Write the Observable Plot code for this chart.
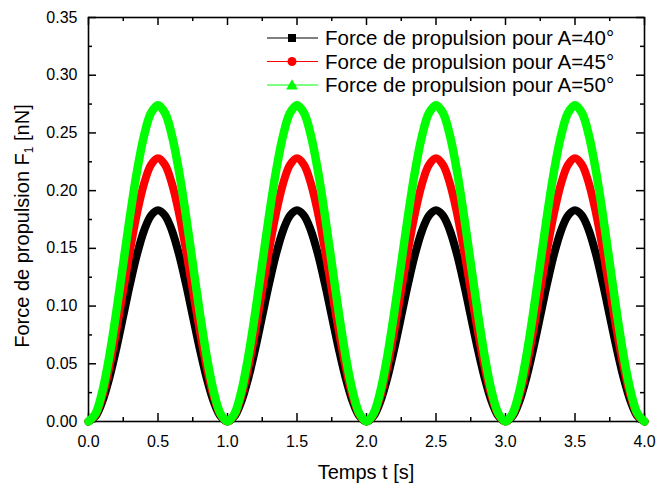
<!DOCTYPE html>
<html><head><meta charset="utf-8">
<script src="https://cdn.jsdelivr.net/npm/d3@7"></script>
<script src="https://cdn.jsdelivr.net/npm/@observablehq/plot@0.6"></script>
<style>
body{margin:0;background:#fff;}
#chart svg{font-family:"Liberation Sans",Arial,sans-serif;}
</style>
</head><body><div id="chart"></div>
<script>
// Sampling times (s)
const time = [0,0.05,0.1,0.15,0.2,0.25,0.3,0.35,0.4,0.45,0.5,0.55,0.6,0.65,0.7,0.75,0.8,0.85,0.9,0.95,
1,1.05,1.1,1.15,1.2,1.25,1.3,1.35,1.4,1.45,1.5,1.55,1.6,1.65,1.7,1.75,1.8,1.85,1.9,1.95,
2,2.05,2.1,2.15,2.2,2.25,2.3,2.35,2.4,2.45,2.5,2.55,2.6,2.65,2.7,2.75,2.8,2.85,2.9,2.95,
3,3.05,3.1,3.15,3.2,3.25,3.3,3.35,3.4,3.45,3.5,3.55,3.6,3.65,3.7,3.75,3.8,3.85,3.9,3.95,4];

// Force de propulsion (nN), A = 40°
const f40 = [0,0.0045,0.0175,0.0377,0.0632,0.0915,0.1198,0.1453,0.1655,0.1785,0.183,0.1785,0.1655,0.1453,0.1198,0.0915,0.0632,0.0377,0.0175,0.0045,
0,0.0045,0.0175,0.0377,0.0632,0.0915,0.1198,0.1453,0.1655,0.1785,0.183,0.1785,0.1655,0.1453,0.1198,0.0915,0.0632,0.0377,0.0175,0.0045,
0,0.0045,0.0175,0.0377,0.0632,0.0915,0.1198,0.1453,0.1655,0.1785,0.183,0.1785,0.1655,0.1453,0.1198,0.0915,0.0632,0.0377,0.0175,0.0045,
0,0.0045,0.0175,0.0377,0.0632,0.0915,0.1198,0.1453,0.1655,0.1785,0.183,0.1785,0.1655,0.1453,0.1198,0.0915,0.0632,0.0377,0.0175,0.0045,0];

// A = 45°
const f45 = [0,0.0056,0.0218,0.047,0.0788,0.114,0.1492,0.181,0.2062,0.2224,0.228,0.2224,0.2062,0.181,0.1492,0.114,0.0788,0.047,0.0218,0.0056,
0,0.0056,0.0218,0.047,0.0788,0.114,0.1492,0.181,0.2062,0.2224,0.228,0.2224,0.2062,0.181,0.1492,0.114,0.0788,0.047,0.0218,0.0056,
0,0.0056,0.0218,0.047,0.0788,0.114,0.1492,0.181,0.2062,0.2224,0.228,0.2224,0.2062,0.181,0.1492,0.114,0.0788,0.047,0.0218,0.0056,
0,0.0056,0.0218,0.047,0.0788,0.114,0.1492,0.181,0.2062,0.2224,0.228,0.2224,0.2062,0.181,0.1492,0.114,0.0788,0.047,0.0218,0.0056,0];

// A = 50°
const f50 = [0,0.0067,0.0262,0.0565,0.0947,0.137,0.1793,0.2175,0.2478,0.2673,0.274,0.2673,0.2478,0.2175,0.1793,0.137,0.0947,0.0565,0.0262,0.0067,
0,0.0067,0.0262,0.0565,0.0947,0.137,0.1793,0.2175,0.2478,0.2673,0.274,0.2673,0.2478,0.2175,0.1793,0.137,0.0947,0.0565,0.0262,0.0067,
0,0.0067,0.0262,0.0565,0.0947,0.137,0.1793,0.2175,0.2478,0.2673,0.274,0.2673,0.2478,0.2175,0.1793,0.137,0.0947,0.0565,0.0262,0.0067,
0,0.0067,0.0262,0.0565,0.0947,0.137,0.1793,0.2175,0.2478,0.2673,0.274,0.2673,0.2478,0.2175,0.1793,0.137,0.0947,0.0565,0.0262,0.0067,0];

const seriesNames = ["Force de propulsion pour A=40°","Force de propulsion pour A=45°","Force de propulsion pour A=50°"];
const seriesColors = ["#000000","#ff0000","#00ff00"];

const xMajor = [0,0.5,1,1.5,2,2.5,3,3.5,4];
const xMinor = [0.25,0.75,1.25,1.75,2.25,2.75,3.25,3.75];
const yMajor = [0,0.05,0.1,0.15,0.2,0.25,0.3,0.35];
const yMinor = [0.025,0.075,0.125,0.175,0.225,0.275,0.325];

const xTitle = "Temps t [s]";
const yTitleA = "Force de propulsion F";
const yTitleSub = "1";
const yTitleB = " [nN]";

const seriesValues = [f40, f45, f50];
const rows = [];
seriesValues.forEach((vals, k) => vals.forEach((v, i) => rows.push({t: time[i], f: v, s: k})));

const W = 659, H = 489, mL = 88, mR = 15, mT = 17, mB = 68;
const fh = H - mT - mB, fw = W - mL - mR;
const major = 8, minor = 4;

const plot = Plot.plot({
  width: W, height: H,
  marginLeft: mL, marginRight: mR, marginTop: mT, marginBottom: mB,
  style: {fontFamily: "Liberation Sans, Arial, sans-serif", fontSize: "16px", background: "white", color: "black", overflow: "visible"},
  x: {domain: [0, 4]},
  y: {domain: [0, 0.35]},
  marks: [
    Plot.ruleX(xMajor, {x: d => d, insetTop: fh - major, stroke: "black", strokeWidth: 1.5}),
    Plot.ruleX(xMajor, {x: d => d, insetBottom: fh - major, stroke: "black", strokeWidth: 1.5}),
    Plot.ruleX(xMinor, {x: d => d, insetTop: fh - minor, stroke: "black", strokeWidth: 1.5}),
    Plot.ruleX(xMinor, {x: d => d, insetBottom: fh - minor, stroke: "black", strokeWidth: 1.5}),
    Plot.ruleY(yMajor, {y: d => d, insetRight: fw - major, stroke: "black", strokeWidth: 1.5}),
    Plot.ruleY(yMajor, {y: d => d, insetLeft: fw - major, stroke: "black", strokeWidth: 1.5}),
    Plot.ruleY(yMinor, {y: d => d, insetRight: fw - minor, stroke: "black", strokeWidth: 1.5}),
    Plot.ruleY(yMinor, {y: d => d, insetLeft: fw - minor, stroke: "black", strokeWidth: 1.5}),
    Plot.frame({stroke: "black", strokeWidth: 1.6}),
    Plot.axisX(xMajor, {tickSize: 0, tickPadding: 14, tickFormat: d3.format(".1f"), label: null, fontSize: 16}),
    Plot.axisY(yMajor, {tickSize: 0, tickPadding: 11, tickFormat: d3.format(".2f"), label: null, fontSize: 16}),
    ...[0, 1, 2].map(k => Plot.line(rows.filter(d => d.s === k), {
      x: "t", y: "f", stroke: seriesColors[k], strokeWidth: k === 2 ? 8.5 : 8, curve: "catmull-rom"
    }))
  ]
});

const svg = d3.select(plot);
// Axis titles
svg.append("text")
  .attr("x", mL + fw / 2).attr("y", 479)
  .attr("text-anchor", "middle").attr("font-size", 20).attr("fill", "black")
  .text(xTitle);
const yt = svg.append("text")
  .attr("transform", "translate(29,226) rotate(-90)")
  .attr("text-anchor", "middle").attr("font-size", 20).attr("fill", "black");
yt.append("tspan").text(yTitleA);
yt.append("tspan").attr("font-size", 12).attr("dy", 4).text(yTitleSub);
yt.append("tspan").attr("dy", -4).text(yTitleB);

// Legend
const lg = svg.append("g").attr("text-anchor", "start");
const baseY = [45, 68.5, 92];
seriesNames.forEach((name, k) => {
  const cy = baseY[k] - 7;
  lg.append("line").attr("x1", 267).attr("x2", 318).attr("y1", cy).attr("y2", cy)
    .attr("stroke", seriesColors[k]).attr("stroke-width", 1.2);
  const sym = d3.symbol().type(k === 0 ? d3.symbolSquare : k === 1 ? d3.symbolCircle : d3.symbolTriangle)
    .size(k === 0 ? 64 : k === 1 ? 64 : 60);
  lg.append("path").attr("d", sym()).attr("transform", `translate(292,${cy + (k === 2 ? 1 : 0)})`)
    .attr("fill", seriesColors[k]);
  lg.append("text").attr("x", 325).attr("y", baseY[k]).attr("font-size", 20.5)
    .attr("text-anchor", "start").attr("fill", "black").text(name);
});

document.getElementById("chart").appendChild(plot);
</script>
</body></html>
